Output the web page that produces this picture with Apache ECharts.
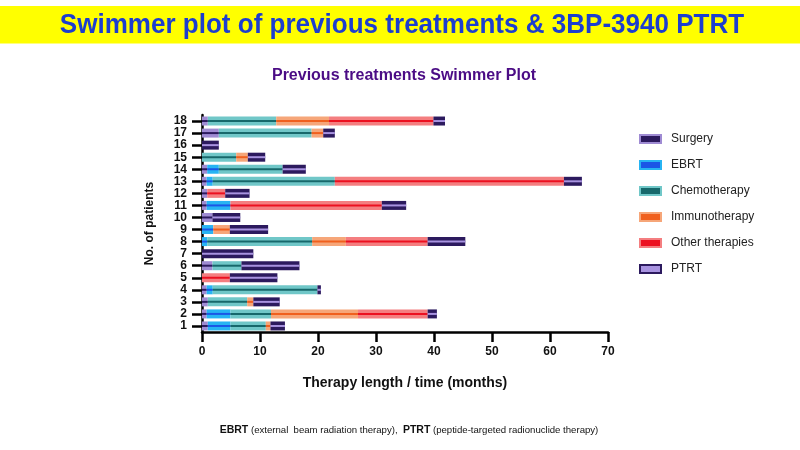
<!DOCTYPE html>
<html>

<head>
    <meta charset="UTF-8" />
    <title>Swimmer plot</title>
    <script src="https://cdn.jsdelivr.net/npm/echarts@6/dist/echarts.min.js"></script>
    <style>
        body { margin: 0; background: #fff; }
    </style>
</head>

<body>
    <div id="chart" style="width: 800px; height: 450px;"></div>

    <script type="text/javascript">
        // patients 1..18, from bottom to top
        var patients = ['1', '2', '3', '4', '5', '6', '7', '8', '9', '10', '11', '12', '13', '14', '15', '16', '17', '18'];

        // length of each treatment (months), stacked in this order
        var surgery = [1, 0.8, 1, 0.8, 0, 1.8, 0, 0, 0, 1.8, 0.8, 0.9, 0.8, 0.9, 0, 0, 2.9, 1];
        var ebrt = [3.9, 4.1, 0, 1.05, 0, 0, 0, 0.9, 1.95, 0, 4.1, 0, 1.05, 2, 0, 0, 0, 0];
        var chemo = [6.1, 7, 6.8, 18.05, 0, 5, 0, 18.1, 0, 0, 0, 0, 21.05, 11, 5.9, 0, 16, 11.8];
        var immuno = [0.8, 15, 1.05, 0, 0, 0, 0, 5.8, 2.85, 0, 0, 0, 0, 0, 2, 0, 2, 9.1];
        var other = [0, 12, 0, 0, 4.8, 0, 0, 14.1, 0, 0, 26.1, 3.1, 39.5, 0, 0, 0, 0, 18];
        var ptrt = [2.5, 1.6, 4.55, 0.6, 8.2, 10, 8.85, 6.5, 6.6, 4.8, 4.2, 4.2, 3.1, 4, 3, 2.9, 2, 2];

        var names = ['Surgery', 'EBRT', 'Chemotherapy', 'Immunotherapy', 'Other therapies', 'PTRT'];
        var values = [surgery, ebrt, chemo, immuno, other, ptrt];
        // wide bar colour and thin centre line colour
        var outerColors = ['#9f8bd3', '#27b4f3', '#70c7c8', '#f6a679', '#f47e80', '#2c1a5e'];
        var innerColors = ['#2c1a5e', '#1b56e6', '#17686b', '#f0601e', '#ec1020', '#a893e0'];

        var chart = echarts.init(document.getElementById('chart'));

        var series = [];
        names.forEach((name, i) => {
            series.push({
                name: name,
                type: 'bar',
                stack: 'outer',
                yAxisIndex: 0,
                barWidth: 9,
                itemStyle: { color: outerColors[i] },
                data: values[i]
            });
        });
        names.forEach((name, i) => {
            series.push({
                name: name,
                type: 'bar',
                stack: 'inner',
                yAxisIndex: 1,
                barWidth: 2,
                itemStyle: { color: innerColors[i] },
                data: values[i]
            });
        });

        var option = {
            animation: false,
            textStyle: { fontFamily: 'Liberation Sans' },
            graphic: [
                {
                    type: 'rect',
                    shape: { x: 0, y: 6, width: 800, height: 37.5 },
                    style: { fill: '#ffff00' }
                },
                {
                    type: 'text',
                    x: 402, y: 25, scaleX: 0.93,
                    style: {
                        text: 'Swimmer plot of previous treatments & 3BP-3940 PTRT',
                        fontFamily: 'Liberation Sans', fontWeight: 'bold', fontSize: 28,
                        fill: '#1c3ecf', align: 'center', verticalAlign: 'middle'
                    }
                },
                {
                    type: 'text',
                    x: 404, y: 76,
                    style: {
                        text: 'Previous treatments Swimmer Plot',
                        fontFamily: 'Liberation Sans', fontWeight: 'bold', fontSize: 16,
                        fill: '#4b0c85', align: 'center', verticalAlign: 'middle'
                    }
                },
                {
                    type: 'text',
                    x: 409, y: 430,
                    style: {
                        text: '{b|EBRT} (external  beam radiation therapy),  {b|PTRT} (peptide-targeted radionuclide therapy)',
                        fontFamily: 'Liberation Sans', fontSize: 9.6, fill: '#111',
                        align: 'center', verticalAlign: 'middle',
                        rich: { b: { fontWeight: 'bold', fontSize: 10.5, fill: '#111' } }
                    }
                }
            ],
            legend: {
                orient: 'vertical',
                left: 639,
                top: 133,
                padding: 0,
                itemWidth: 21,
                itemHeight: 8,
                itemGap: 14,
                textStyle: { fontSize: 12, color: '#222', padding: [0, 0, 0, 5] },
                data: names.map((name, i) => ({
                    name: name,
                    icon: 'rect',
                    itemStyle: { color: innerColors[i], borderColor: outerColors[i], borderWidth: 2 }
                }))
            },
            grid: { left: 202, right: 192, top: 115, bottom: 118 },
            xAxis: {
                type: 'value',
                min: 0,
                max: 70,
                interval: 10,
                name: 'Therapy length / time (months)',
                nameLocation: 'middle',
                nameGap: 44,
                nameTextStyle: { fontSize: 14, fontWeight: 'bold', color: '#111' },
                axisLine: { show: true, lineStyle: { color: '#000', width: 2.5 } },
                axisTick: { show: true, length: 10, lineStyle: { color: '#000', width: 2.5 } },
                axisLabel: { fontSize: 12, fontWeight: 'bold', color: '#111', margin: 14 },
                splitLine: { show: false }
            },
            yAxis: [
                {
                    type: 'category',
                    data: patients,
                    name: 'No. of patients',
                    nameLocation: 'middle',
                    nameGap: 46,
                    nameTextStyle: { fontSize: 12, fontWeight: 'bold', color: '#111' },
                    axisLine: { show: true, lineStyle: { color: '#000', width: 2.5 } },
                    axisTick: { show: true, alignWithLabel: true, interval: 0, length: 10, lineStyle: { color: '#000', width: 2.5 } },
                    axisLabel: { interval: 0, fontSize: 12, fontWeight: 'bold', color: '#111', margin: 15 }
                },
                {
                    type: 'category',
                    data: patients,
                    show: false
                }
            ],
            series: series
        };
        chart.setOption(option);
    </script>
</body>

</html>
